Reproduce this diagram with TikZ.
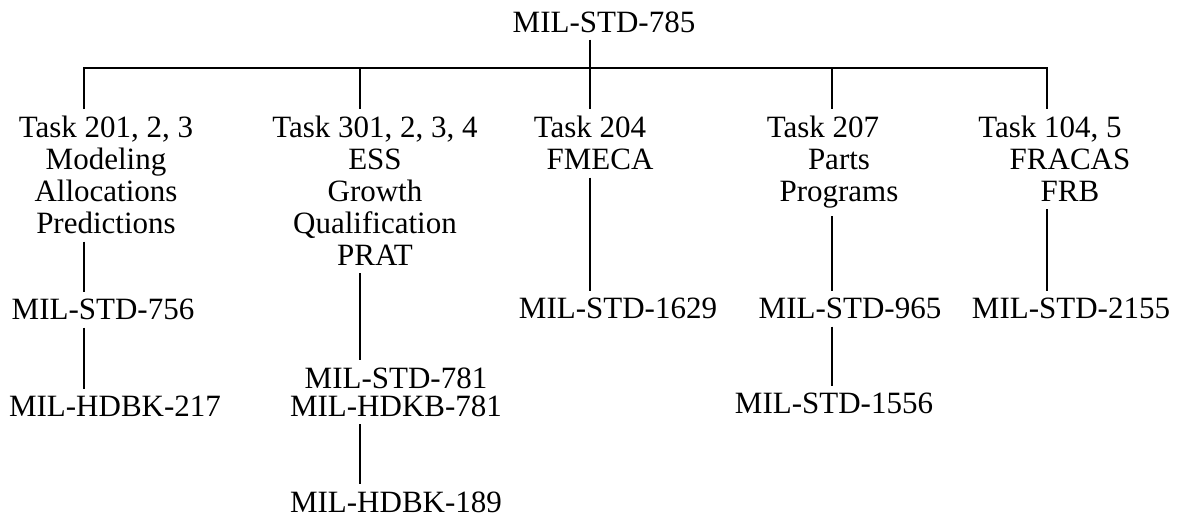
\documentclass[tikz,border=0pt]{standalone}
\usepackage{fontspec}
\setmainfont{Liberation Serif}
\usepackage{tikz}
\newcommand{\lblfont}{\fontsize{15.5}{16}\selectfont}
\tikzset{
    lbl/.style={inner sep=0pt, anchor=north, align=center, font=\lblfont},
    link/.style={line width=1pt, shorten <=3.5pt, shorten >=3.5pt}
}

\begin{document}
\begin{tikzpicture}[x=0.5pt, y=-0.5pt]
        \useasboundingbox (0, 0) rectangle (1184, 516);
        \node[lbl] (root) at (604, 11) {MIL-STD-785};
        \node[lbl] (task201) at (106, 116) {Task 201, 2, 3\\Modeling\\Allocations\\Predictions};
        \node[lbl] (task301) at (375, 116) {Task 301, 2, 3, 4\\ESS\\Growth\\Qualification\\PRAT};
        \node[lbl] (task204) at (600, 116) {Task 204\hspace*{10pt}\\FMECA};
        \node[lbl] (task207) at (839, 116) {Task 207\hspace*{16pt}\\Parts\\Programs};
        \node[lbl] (task104) at (1070, 116) {Task 104, 5\hspace*{20pt}\\FRACAS\\FRB};
        \node[lbl] (std756) at (103, 299) {MIL-STD-756};
        \node[lbl] (hdbk217) at (115, 396) {MIL-HDBK-217};
        \node[lbl, font=\fontsize{15.5}{14.25}\selectfont] (std781) at (396, 367) {MIL-STD-781\\MIL-HDKB-781};
        \node[lbl] (hdbk189) at (396, 491) {MIL-HDBK-189};
        \node[lbl] (std1629) at (618, 298) {MIL-STD-1629};
        \node[lbl] (std965) at (850, 298) {MIL-STD-965};
        \node[lbl] (std1556) at (834, 393) {MIL-STD-1556};
        \node[lbl] (std2155) at (1071, 298) {MIL-STD-2155};
        \coordinate (bus1) at (84, 68);
        \coordinate (bus2) at (360, 68);
        \coordinate (bus3) at (590, 68);
        \coordinate (bus4) at (832, 68);
        \coordinate (bus5) at (1047, 68);
        \draw[link] (task201.north -| bus1) -- (bus1) -- (bus5) -- (task104.north -| bus5);
        \draw[link] (root.south -| bus3) -- (task204.north -| bus3);
        \draw[link, shorten <=0pt] (bus2) -- (task301.north -| bus2);
        \draw[link, shorten <=0pt] (bus4) -- (task207.north -| bus4);
        \draw[link] (task201.south -| bus1) -- (std756.north -| bus1);
        \draw[link] (std756.south -| bus1) -- (hdbk217.north -| bus1);
        \draw[link] (task301.south -| bus2) -- (std781.north -| bus2);
        \draw[link] (std781.south -| bus2) -- (hdbk189.north -| bus2);
        \draw[link] (task204.south -| bus3) -- (std1629.north -| bus3);
        \draw[link] (task207.south -| bus4) -- (std965.north -| bus4);
        \draw[link] (std965.south -| bus4) -- (std1556.north -| bus4);
        \draw[link] (task104.south -| bus5) -- (std2155.north -| bus5);
\end{tikzpicture}
\end{document}
